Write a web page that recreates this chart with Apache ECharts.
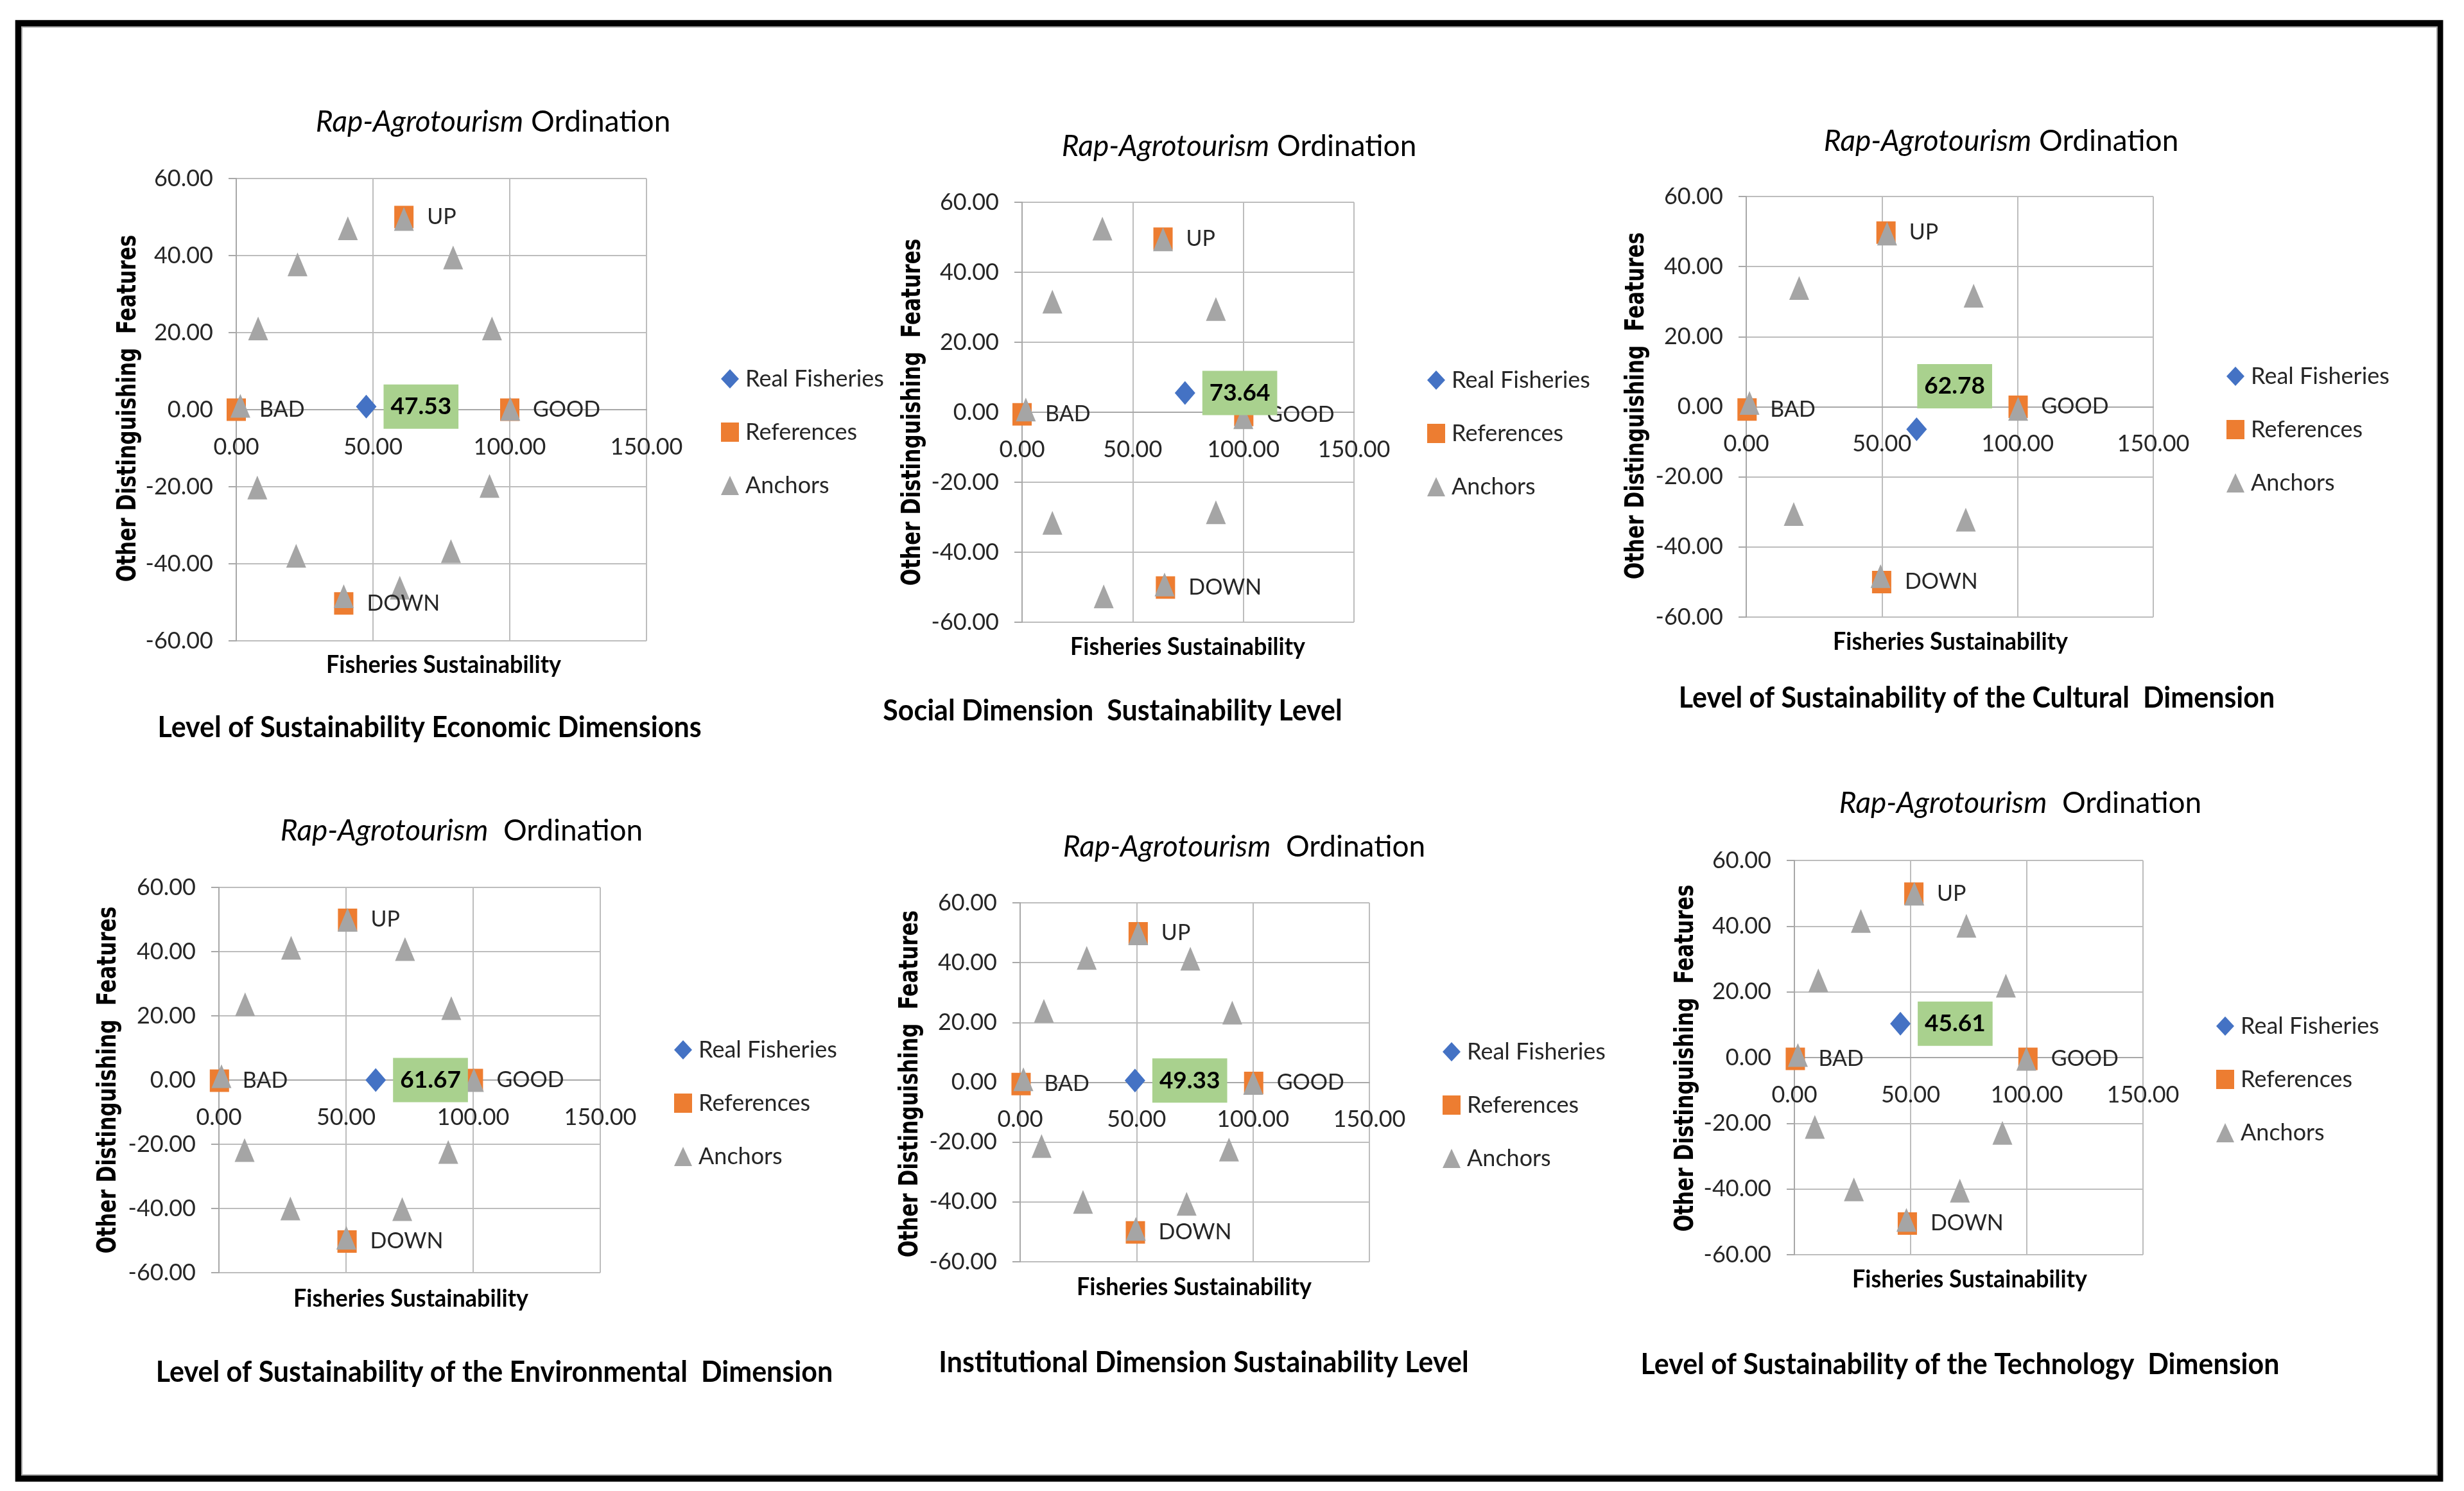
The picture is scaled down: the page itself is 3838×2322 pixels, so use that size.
<!DOCTYPE html>
<html>
<head>
<meta charset="utf-8">
<script src="https://cdn.jsdelivr.net/npm/echarts@6/dist/echarts.min.js"></script>
<style>
html,body{margin:0;padding:0;background:#ffffff;}
#c{width:3838px;height:2322px;}
</style>
</head>
<body>
<div id="c"></div>
<script>
// ---------------- DATA ----------------
const legendNames = ['Real Fisheries', 'References', 'Anchors'];
const refLabels = ['BAD', 'GOOD', 'UP', 'DOWN'];
const xAxisName = 'Fisheries Sustainability';
const yAxisName = 'Other Distinguishing  Features';
const xRange = [0, 150, 50];      // min, max, interval
const yRange = [-60, 60, 20];     // min, max, interval
const chartTitles = ['Rap-Agrotourism| Ordination', 'Rap-Agrotourism| Ordination', 'Rap-Agrotourism| Ordination',
                     'Rap-Agrotourism|  Ordination', 'Rap-Agrotourism|  Ordination', 'Rap-Agrotourism|  Ordination'];
const captions = [
  'Level of Sustainability Economic Dimensions',
  'Social Dimension  Sustainability Level',
  'Level of Sustainability of the Cultural  Dimension',
  'Level of Sustainability of the Environmental  Dimension',
  'Institutional Dimension Sustainability Level',
  'Level of Sustainability of the Technology  Dimension'
];
const scores = [47.53, 73.64, 62.78, 61.67, 49.33, 45.61];

const econReal = [[47.53, 0.8]];
const econRefs = [[0, 0], [100, 0], [61.3, 50], [39.3, -50.3]];
const econAnchors = [[1.5, 1.0], [8.0, 21.1], [22.4, 37.7], [40.8, 47.1], [61.3, 49.5], [79.3, 39.5], [93.5, 21.1],
  [100.2, 0.2], [92.6, -19.8], [78.5, -36.7], [59.8, -46.2], [39.3, -48.4], [21.9, -37.9], [7.7, -20.2]];

const socReal = [[73.64, 5.5]];
const socRefs = [[0, -0.6], [100.2, -0.8], [63.7, 49.6], [64.8, -50.1]];
const socAnchors = [[1.7, 0.8], [13.7, 31.6], [36.3, 52.5], [63.7, 49.4], [87.6, 29.5], [100, -1.4],
  [87.6, -28.6], [64.4, -49.2], [36.9, -52.6], [13.7, -31.6]];

const culReal = [[62.78, -6.4]];
const culRefs = [[0.3, -0.8], [100.2, 0], [51.5, 49.7], [49.9, -50]];
const culAnchors = [[1.2, 1.1], [19.5, 33.9], [51.9, 49.4], [83.8, 31.7], [100.2, -0.6], [80.9, -32.2],
  [49.5, -48.3], [17.5, -30.6]];

const envReal = [[61.67, 0]];
const envRefs = [[0.2, -0.2], [100.1, 0], [50.6, 49.9], [50.4, -50.3]];
const envAnchors = [[1.0, 1.2], [10.3, 23.6], [28.4, 41.2], [50.6, 49.9], [73.2, 40.8], [91.4, 22.4], [100.3, 0],
  [90.2, -22.4], [72.1, -40.2], [50.1, -49.1], [28.1, -40.0], [10.1, -21.8]];

const instReal = [[49.33, 0.6]];
const instRefs = [[0.4, -0.6], [100.3, -0.2], [50.7, 49.8], [49.5, -50.2]];
const instAnchors = [[1.4, 1.0], [10.2, 23.9], [28.6, 41.6], [50.7, 49.8], [73.1, 41.3], [91.1, 23.3], [100.1, -0.2],
  [89.7, -22.5], [71.5, -40.6], [49.7, -49.0], [27.0, -40.0], [9.2, -21.3]];

const techReal = [[45.61, 10.3]];
const techRefs = [[0.4, -0.4], [100.5, -0.4], [51.4, 49.9], [48.6, -50.5]];
const techAnchors = [[1.5, 0.8], [10.3, 23.5], [28.6, 41.6], [51.6, 49.9], [74.0, 40.1], [91.0, 21.9], [99.8, -0.4],
  [89.5, -22.9], [71.2, -40.5], [48.2, -49.4], [25.6, -40.1], [8.8, -21.1]];

const realSets = [econReal, socReal, culReal, envReal, instReal, techReal];
const refSets = [econRefs, socRefs, culRefs, envRefs, instRefs, techRefs];
const anchorSets = [econAnchors, socAnchors, culAnchors, envAnchors, instAnchors, techAnchors];

// ---------------- LAYOUT (positions / styles) ----------------
const layout = [
  {grid: [368, 278, 639, 720], title: [768, 190], xname: [691, 1035], caption: [669, 1133], yname: [200, 636], legend: [1137, 590], lab: [0, 0]},
  {grid: [1592, 315, 517, 654], title: [1930, 228], xname: [1850, 1007], caption: [1733, 1107], yname: [1422, 642], legend: [2237, 592], lab: [0, 0]},
  {grid: [2720, 306, 634, 655], title: [3117, 220], xname: [3038, 999], caption: [3079, 1087], yname: [2549, 632], legend: [3482, 586], lab: [-26, -67]},
  {grid: [341, 1382, 594, 600], title: [719, 1294], xname: [640, 2022], caption: [770, 2137], yname: [169, 1682], legend: [1064, 1635], lab: [0, 0]},
  {grid: [1589, 1406, 544, 559], title: [1938, 1319], xname: [1860, 2004], caption: [1875, 2122], yname: [1418, 1688], legend: [2261, 1638], lab: [0, 0]},
  {grid: [2795, 1340, 543, 614], title: [3147, 1251], xname: [3068, 1992], caption: [3053, 2125], yname: [2626, 1648], legend: [3466, 1598], lab: [0, 0]}
];

const FONT = 'Lato';
const GRID_COLOR = '#BDBDBD';
const AXIS_COLOR = '#A8A8A8';
const TXT = '#262626';

const grids = [], xAxes = [], yAxes = [], series = [], legends = [], graphics = [];

// frame
graphics.push({type: 'rect', shape: {x: 28.7, y: 36.3, width: 3771.8, height: 2266.2},
  style: {fill: 'none', stroke: '#000', lineWidth: 10}, z: 10});
graphics.push({type: 'rect', shape: {x: 34, y: 42, width: 3762, height: 2255},
  style: {fill: 'none', stroke: '#A6A6A6', lineWidth: 2}, z: 10});

const zeroFrac = (0 - yRange[0]) / (yRange[1] - yRange[0]);

layout.forEach((L, i) => {
  grids.push({left: L.grid[0], top: L.grid[1], width: L.grid[2], height: L.grid[3], outerBoundsMode: 'none', containLabel: false});
  xAxes.push({
    gridIndex: i, type: 'value', min: xRange[0], max: xRange[1], interval: xRange[2],
    position: 'bottom', offset: -L.grid[3] * zeroFrac,
    axisLine: {show: true, onZero: false, lineStyle: {color: AXIS_COLOR, width: 2}},
    axisTick: {show: false},
    axisLabel: {formatter: v => v.toFixed(2), fontFamily: FONT, fontSize: 36, color: TXT, margin: 40},
    splitLine: {show: true, lineStyle: {color: GRID_COLOR, width: 2}}
  });
  yAxes.push({
    gridIndex: i, type: 'value', min: yRange[0], max: yRange[1], interval: yRange[2],
    axisLine: {show: true, onZero: false, lineStyle: {color: AXIS_COLOR, width: 2}},
    axisTick: {show: true, length: 12, lineStyle: {color: AXIS_COLOR, width: 2}},
    axisLabel: {formatter: v => v.toFixed(2), fontFamily: FONT, fontSize: 36, color: TXT, margin: 36},
    splitLine: {show: true, lineStyle: {color: GRID_COLOR, width: 2}}
  });

  series.push({
    name: legendNames[1], type: 'scatter', xAxisIndex: i, yAxisIndex: i,
    symbol: 'rect', symbolSize: [30, 35], itemStyle: {color: '#ED7D31', opacity: 1},
    data: refSets[i],
    label: {show: true, position: 'right', distance: 21, formatter: p => refLabels[p.dataIndex],
      fontFamily: FONT, fontSize: 34, color: TXT},
    emphasis: {disabled: true}
  });
  series.push({
    name: legendNames[2], type: 'scatter', xAxisIndex: i, yAxisIndex: i,
    symbol: 'triangle', symbolSize: [31, 37], itemStyle: {color: '#A5A5A5', opacity: 1},
    data: anchorSets[i], emphasis: {disabled: true}
  });
  series.push({
    name: legendNames[0], type: 'scatter', xAxisIndex: i, yAxisIndex: i, z: 3,
    symbol: 'diamond', symbolSize: [32, 37], itemStyle: {color: '#4472C4', opacity: 1},
    data: realSets[i],
    label: {show: true, position: 'right', distance: 11, offset: L.lab,
      formatter: () => scores[i].toFixed(2),
      backgroundColor: '#A9D18E', padding: [14, 11, 14, 11],
      fontFamily: FONT, fontWeight: 'bold', fontSize: 37, lineHeight: 41, color: '#000'},
    emphasis: {disabled: true}
  });

  legends.push({
    orient: 'vertical', left: L.legend[0] - 14, top: L.legend[1] - 21, padding: 0,
    itemWidth: 28, itemHeight: 30, itemGap: 41, selectedMode: false,
    data: legendNames.slice(),
    textStyle: {fontFamily: FONT, fontSize: 36, lineHeight: 42, color: TXT, padding: [0, 0, 0, 5]}
  });

  const parts = chartTitles[i].split('|');
  graphics.push({type: 'text', x: L.title[0], y: L.title[1], z: 10,
    style: {text: '{i|' + parts[0] + '}{n|' + parts[1] + '}', fontFamily: FONT, fontSize: 46, fill: '#000',
      align: 'center', verticalAlign: 'middle',
      rich: {i: {fontFamily: FONT, fontSize: 46, fontStyle: 'italic', fill: '#000', color: '#000'},
             n: {fontFamily: FONT, fontSize: 46, fill: '#000', color: '#000'}}}});
  graphics.push({type: 'text', x: L.yname[0], y: L.yname[1], rotation: Math.PI / 2, scaleX: 0.89, scaleY: 1.18, z: 10,
    style: {text: yAxisName, fontFamily: 'DejaVu Sans', fontWeight: 'bold', fontSize: 35, fill: '#000',
      align: 'center', verticalAlign: 'middle'}});
  graphics.push({type: 'text', x: L.xname[0], y: L.xname[1], z: 10, scaleY: 1.08,
    style: {text: xAxisName, fontFamily: FONT, fontWeight: 'bold', fontSize: 36, fill: '#000',
      align: 'center', verticalAlign: 'middle'}});
  graphics.push({type: 'text', x: L.caption[0], y: L.caption[1], z: 10, scaleY: 1.08,
    style: {text: captions[i], fontFamily: FONT, fontWeight: 'bold', fontSize: 43, fill: '#000',
      align: 'center', verticalAlign: 'middle'}});
});

const chart = echarts.init(document.getElementById('c'), null, {renderer: 'canvas', width: 3838, height: 2322});
chart.setOption({
  backgroundColor: '#ffffff',
  animation: false,
  grid: grids,
  xAxis: xAxes,
  yAxis: yAxes,
  legend: legends,
  series: series,
  graphic: graphics
});
</script>
</body>
</html>
